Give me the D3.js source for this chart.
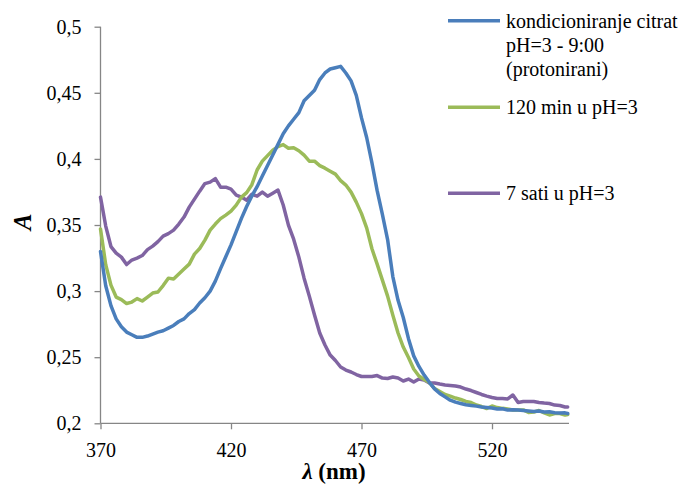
<!DOCTYPE html>
<html>
<head>
<meta charset="utf-8">
<script src="https://cdn.jsdelivr.net/npm/d3@7"></script>
<style>
  html, body { margin: 0; padding: 0; background: #ffffff; }
  svg { display: block; }
</style>
</head>
<body>
<svg id="chart" width="690" height="484"></svg>
<script>
// ---- data ----
const wavelengths = [
  370,372,374,376,378,380,382,384,386,388,
  390,392,394,396,398,400,402,404,406,408,
  410,412,414,416,418,420,422,424,426,428,
  430,432,434,436,438,440,442,444,446,448,
  450,452,454,456,458,460,462,464,466,468,
  470,472,474,476,478,480,482,484,486,488,
  490,492,494,496,498,500,502,504,506,508,
  510,512,514,516,518,520,522,524,526,528,
  530,532,534,536,538,540,542,544,546,548,
  549
];
const seriesNames = [
  ["kondicioniranje citrat", "pH=3 - 9:00", "(protonirani)"],
  ["120 min u pH=3"],
  ["7 sati u pH=3"]
];
const blueValues = [
  0.330,0.304,0.289,0.279,0.273,0.269,0.267,0.265,0.265,0.266,
  0.2675,0.269,0.270,0.272,0.274,0.277,0.279,0.283,0.286,0.291,
  0.295,0.300,0.3075,0.317,0.326,0.335,0.345,0.355,0.364,0.372,
  0.379,0.387,0.395,0.403,0.411,0.419,0.425,0.430,0.435,0.444,
  0.448,0.452,0.460,0.465,0.468,0.469,0.470,0.465,0.459,0.448,
  0.431,0.416,0.397,0.376,0.358,0.339,0.311,0.293,0.280,0.264,
  0.251,0.243,0.2365,0.231,0.226,0.2225,0.220,0.2175,0.216,0.215,
  0.214,0.2135,0.213,0.2123,0.212,0.2116,0.2108,0.211,0.210,0.2102,
  0.210,0.2097,0.2093,0.2089,0.2093,0.2085,0.2087,0.208,0.2078,0.2079,
  0.2074
];
const greenValues = [
  0.347,0.320,0.3045,0.2955,0.2936,0.2906,0.2917,0.2943,0.2925,0.2955,
  0.2985,0.2993,0.3042,0.3098,0.3091,0.3129,0.3167,0.3204,0.328,0.3322,
  0.3386,0.3461,0.3507,0.3548,0.3575,0.3605,0.365,0.3711,0.3745,0.3805,
  0.3916,0.3983,0.4025,0.4066,0.4093,0.4108,0.4081,0.4085,0.4062,0.4028,
  0.3983,0.3983,0.3949,0.393,0.3907,0.3885,0.3836,0.3802,0.3749,0.3673,
  0.3586,0.3476,0.332,0.3204,0.3083,0.2962,0.2818,0.2683,0.2577,0.2497,
  0.2411,0.2358,0.2331,0.2308,0.2263,0.224,0.2218,0.2206,0.2191,0.218,
  0.2165,0.2157,0.2138,0.2127,0.2112,0.2131,0.2119,0.2113,0.2108,0.2101,
  0.2101,0.2101,0.2082,0.2085,0.2097,0.2078,0.2063,0.2074,0.2074,0.2063,
  0.2067
];
const purpleValues = [
  0.3711,0.3492,0.3337,0.3287,0.3257,0.3201,0.3235,0.325,0.3269,0.3314,
  0.334,0.3374,0.3416,0.3435,0.3461,0.3507,0.356,0.3635,0.3696,0.3756,
  0.3813,0.3824,0.3851,0.3786,0.3786,0.3771,0.3726,0.3711,0.3688,0.3733,
  0.3718,0.3749,0.3718,0.3741,0.3764,0.3651,0.3499,0.3393,0.3257,0.3098,
  0.2962,0.2819,0.2683,0.2592,0.2516,0.2475,0.2426,0.2403,0.2388,0.2369,
  0.2354,0.2354,0.2354,0.2361,0.2342,0.2339,0.235,0.2342,0.232,0.2335,
  0.2312,0.2335,0.2327,0.2305,0.2305,0.2297,0.229,0.2286,0.2282,0.2274,
  0.2259,0.2248,0.2233,0.2218,0.2206,0.2195,0.2187,0.2187,0.2184,0.2214,
  0.2157,0.2165,0.2165,0.2165,0.2157,0.2153,0.215,0.2138,0.2135,0.2123,
  0.2123
];
const seriesColors = ["#4A7EBB", "#9BBB59", "#8064A2"];
const xTickValues = [370, 420, 470, 520];
const yTickValues = [0.2, 0.25, 0.3, 0.35, 0.4, 0.45, 0.5];
const xDomain = [370, 549.5];
const yDomain = [0.2, 0.5];

// ---- chart ----
const svg = d3.select("#chart");
const plot = { left: 100.5, right: 569, top: 26.7, bottom: 423.3 };
const x = d3.scaleLinear().domain(xDomain).range([plot.left, plot.right]);
const y = d3.scaleLinear().domain(yDomain).range([plot.bottom, plot.top]);
const serif = "'Liberation Serif', 'Times New Roman', serif";
const axisColor = "#868686";

const fmt = v => String(+v.toFixed(2)).replace(".", ",");

const gx = svg.append("g")
  .attr("transform", `translate(0,${plot.bottom})`)
  .call(d3.axisBottom(x).tickValues(xTickValues).tickSize(6).tickPadding(14).tickFormat(d3.format("d")));
const gy = svg.append("g")
  .attr("transform", `translate(${plot.left},0)`)
  .call(d3.axisLeft(y).tickValues(yTickValues).tickSize(6).tickPadding(13).tickFormat(fmt));

[gx, gy].forEach(g => {
  g.select(".domain").attr("stroke", axisColor).attr("stroke-width", 1.3);
  g.selectAll(".tick line").attr("stroke", axisColor).attr("stroke-width", 1.3);
  g.selectAll(".tick text").attr("fill", "#000").style("font-family", serif).style("font-size", "20px");
});
gy.select(".domain").attr("d", `M-0,${plot.bottom}V${plot.top}`);
gx.select(".domain").attr("d", `M${plot.left},0H${plot.right}`);

const series = [blueValues, greenValues, purpleValues];
const line = d3.line()
  .x((d, i) => x(wavelengths[i]))
  .y(d => y(d));

const drawOrder = [2, 1, 0];
drawOrder.forEach(k => {
  svg.append("path")
    .datum(series[k])
    .attr("fill", "none")
    .attr("stroke", seriesColors[k])
    .attr("stroke-width", 3.5)
    .attr("stroke-linejoin", "round")
    .attr("stroke-linecap", "round")
    .attr("d", line);
});

// axis titles
svg.append("text")
  .attr("transform", "translate(31,222) rotate(-90)")
  .attr("text-anchor", "middle")
  .style("font-family", serif)
  .style("font-size", "25px")
  .style("font-weight", "bold")
  .style("font-style", "italic")
  .text("A");

const xt = svg.append("text")
  .attr("x", 334)
  .attr("y", 479)
  .attr("text-anchor", "middle")
  .style("font-family", serif)
  .style("font-size", "23px")
  .style("font-weight", "bold");
xt.append("tspan").style("font-style", "italic").text("λ");
xt.append("tspan").text(" (nm)");

// legend
const legendY = [20.7, 107.3, 193.3];
const legendTextY = [28, 114, 200];
seriesNames.forEach((lines, k) => {
  svg.append("line")
    .attr("x1", 448).attr("x2", 500)
    .attr("y1", legendY[k]).attr("y2", legendY[k])
    .attr("stroke", seriesColors[k])
    .attr("stroke-width", 3.5);
  const t = svg.append("text")
    .attr("x", 506)
    .attr("y", legendTextY[k])
    .style("font-family", serif)
    .style("font-size", "20px")
    .attr("fill", "#000");
  lines.forEach((s, j) => {
    t.append("tspan").attr("x", 506).attr("dy", j === 0 ? 0 : 24).text(s);
  });
});
</script>
</body>
</html>
